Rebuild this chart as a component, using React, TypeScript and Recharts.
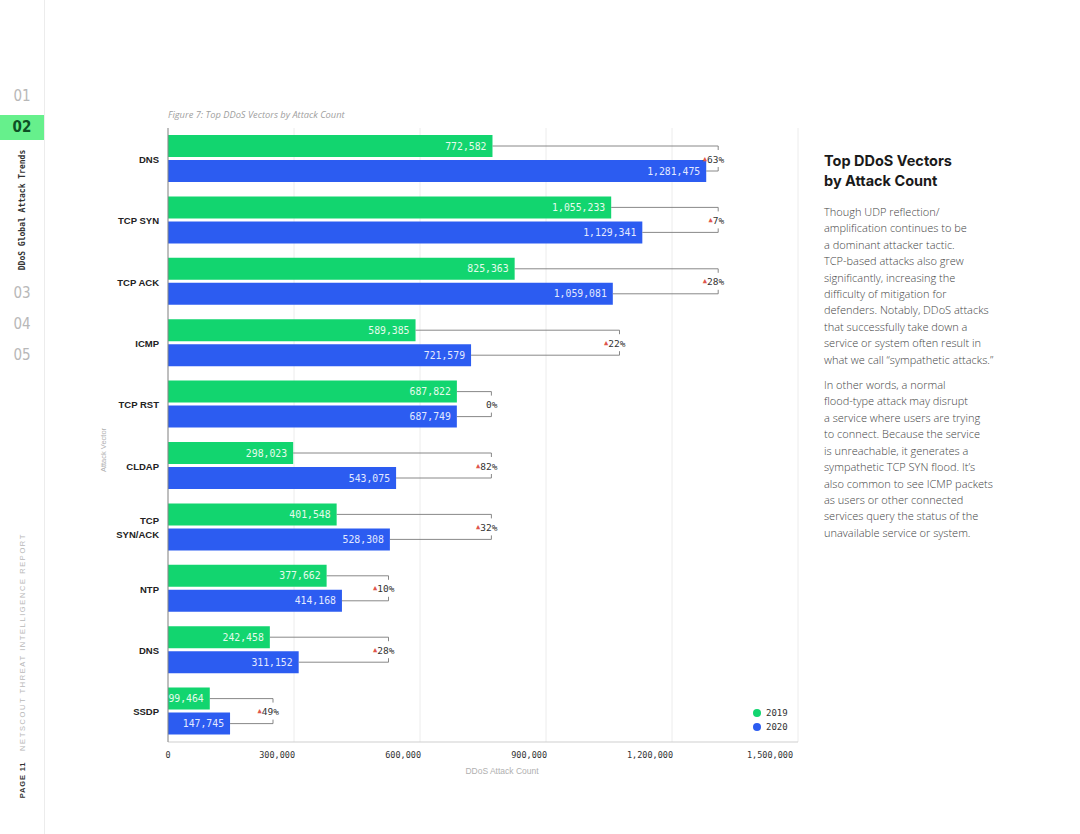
import { BarChart, Bar, XAxis, YAxis, CartesianGrid, LabelList } from "recharts";

const categories = ["DNS", "TCP SYN", "TCP ACK", "ICMP", "TCP RST", "CLDAP", "TCP SYN/ACK", "NTP", "DNS", "SSDP"];
const attacks2019 = [772582, 1055233, 825363, 589385, 687822, 298023, 401548, 377662, 242458, 99464];
const attacks2020 = [1281475, 1129341, 1059081, 721579, 687749, 543075, 528308, 414168, 311152, 147745];
const changeLabels = ["63%", "7%", "28%", "22%", "0%", "82%", "32%", "10%", "28%", "49%"];
const changeUp = [true, true, true, true, false, true, true, true, true, true];
// where each year-over-year bracket closes, in attack-count units
const bracketAt = [1310000, 1310000, 1310000, 1075000, 770000, 770000, 770000, 525000, 525000, 250000];
const xTicks = [0, 300000, 600000, 900000, 1200000, 1500000];

const rows = categories.map((name, i) => ({
  id: i,
  name,
  y2019: attacks2019[i],
  y2020: attacks2020[i],
}));

const GREEN = "#12d56f";
const BLUE = "#2c5cf1";
const MONO = "'DejaVu Sans Mono', monospace";
const SANS = "'Liberation Sans', Arial, sans-serif";
const BAR = 22;
const GAP = 3;

const fmt = (v: number) => v.toLocaleString("en-US");

function rect(props: any) {
  const vb = props.viewBox ?? props;
  return { x: vb.x ?? props.x, y: vb.y ?? props.y, width: vb.width ?? props.width, height: vb.height ?? props.height };
}

function GreenLink(props: any) {
  const { x, y, width, height } = rect(props);
  const i = props.index;
  const perUnit = width / attacks2019[i];
  const bx = x + bracketAt[i] * perUnit;
  const cy = y + height / 2;
  return <path d={`M${x + width},${cy}H${bx}V${cy + 4}`} stroke="#7a7a7a" strokeWidth={0.9} fill="none" />;
}

function BlueLink(props: any) {
  const { x, y, width, height } = rect(props);
  const i = props.index;
  const perUnit = width / attacks2020[i];
  const bx = x + bracketAt[i] * perUnit;
  const cy = y + height / 2;
  const mid = y - GAP / 2;
  return (
    <g>
      <path d={`M${x + width},${cy}H${bx}V${cy - 4}`} stroke="#7a7a7a" strokeWidth={0.9} fill="none" />
      <text x={bx + 6} y={mid} textAnchor="end" dominantBaseline="central" fontFamily={MONO} fontSize={9.5} fill="#333">
        {changeUp[i] && (
          <tspan fill="#e0564c" fontSize={7}>
            ▲
          </tspan>
        )}
        <tspan>{changeLabels[i]}</tspan>
      </text>
    </g>
  );
}

function ValueLabel(props: any) {
  const { x, y, width, height } = rect(props);
  const light = props.light as string;
  return (
    <text x={x + width - 6} y={y + height / 2} textAnchor="end" dominantBaseline="central" fontFamily={MONO} fontSize={9.8} fill={light}>
      {fmt(Number(props.value))}
    </text>
  );
}

function CatTick(props: any) {
  const { x, y, payload } = props;
  const name = categories[payload.index ?? payload.value];
  const parts = name === "TCP SYN/ACK" ? ["TCP", "SYN/ACK"] : [name];
  const start = y - ((parts.length - 1) * 14) / 2;
  return (
    <text x={x} y={start} textAnchor="end" dominantBaseline="central" fontFamily={SANS} fontWeight={700} fontSize={9.5} fill="#222">
      {parts.map((p, k) => (
        <tspan key={k} x={x} y={start + k * 14}>
          {p}
        </tspan>
      ))}
    </text>
  );
}

function CountTick(props: any) {
  const { x, y, payload } = props;
  return (
    <text x={payload.value === 0 ? x : x + 1} y={y + 2} textAnchor={payload.value === 0 ? "middle" : "end"} dy="0.71em" fontFamily={MONO} fontSize={8.5} fill="#333">
      {fmt(payload.value)}
    </text>
  );
}

function YTitle(props: any) {
  const vb = props.viewBox;
  const cx = 103;
  const cy = vb.y + vb.height / 2 + 15;
  return (
    <text x={cx} y={cy} transform={`rotate(-90 ${cx} ${cy})`} textAnchor="middle" dominantBaseline="central" fontFamily={SANS} fontSize={7.5} fill="#b0b0b0">
      Attack Vector
    </text>
  );
}

function XTitle(props: any) {
  const vb = props.viewBox;
  return (
    <text x={vb.x + vb.width / 2 + 19} y={vb.y + 29} textAnchor="middle" dominantBaseline="central" fontFamily={SANS} fontSize={8.5} fill="#b0b0b0">
      DDoS Attack Count
    </text>
  );
}

const para1 = [
  "Though UDP reflection/",
  "amplification continues to be",
  "a dominant attacker tactic.",
  "TCP-based attacks also grew",
  "significantly, increasing the",
  "difficulty of mitigation for",
  "defenders. Notably, DDoS attacks",
  "that successfully take down a",
  "service or system often result in",
  "what we call “sympathetic attacks.”",
];
const para2 = [
  "In other words, a normal",
  "flood-type attack may disrupt",
  "a service where users are trying",
  "to connect. Because the service",
  "is unreachable, it generates a",
  "sympathetic TCP SYN flood. It’s",
  "also common to see ICMP packets",
  "as users or other connected",
  "services query the status of the",
  "unavailable service or system.",
];

const navStyle: React.CSSProperties = {
  position: "absolute",
  left: 0,
  width: 44,
  textAlign: "center",
  fontFamily: "'DejaVu Sans Condensed', Roboto, sans-serif",
  fontWeight: 300,
  fontSize: 15,
  color: "#b8b8b8",
  lineHeight: "20px",
};

function Vertical({ cy, text, style }: { cy: number; text: string; style: React.CSSProperties }) {
  return (
    <div
      style={{
        position: "absolute",
        left: 22,
        top: cy,
        transform: "translate(-50%, -50%) rotate(-90deg)",
        whiteSpace: "nowrap",
        ...style,
      }}
    >
      {text}
    </div>
  );
}

export default function App() {
  return (
    <div style={{ position: "absolute", left: 0, top: 0, width: 1080, height: 834, background: "#fff", overflow: "hidden" }}>
      {/* side navigation */}
      <div style={{ position: "absolute", left: 44, top: 0, width: 1, height: 834, background: "#ececec" }} />
      <div style={{ ...navStyle, top: 86 }}>01</div>
      <div style={{ position: "absolute", left: 0, top: 115, width: 44, height: 25, background: "#66f08c" }} />
      <div style={{ ...navStyle, top: 117, color: "#0d4f24", fontWeight: 700 }}>02</div>
      <Vertical cy={210} text="DDoS Global Attack Trends" style={{ fontFamily: MONO, fontSize: 8, fontWeight: 700, color: "#333" }} />
      <div style={{ ...navStyle, top: 283 }}>03</div>
      <div style={{ ...navStyle, top: 314 }}>04</div>
      <div style={{ ...navStyle, top: 345 }}>05</div>
      <Vertical cy={642} text="NETSCOUT THREAT INTELLIGENCE REPORT" style={{ fontFamily: SANS, fontSize: 7.5, letterSpacing: 1.6, color: "#b8b8b8" }} />
      <Vertical cy={780} text="PAGE 11" style={{ fontFamily: SANS, fontSize: 7.5, fontWeight: 700, letterSpacing: 0.8, color: "#333" }} />

      <div style={{ position: "absolute", left: 168, top: 108, fontFamily: "'Open Sans', sans-serif", fontStyle: "italic", fontSize: 9.3, color: "#a0a0a0" }}>
        Figure 7: Top DDoS Vectors by Attack Count
      </div>

      <div style={{ position: "absolute", left: 0, top: 0 }}>
        <BarChart width={820} height={800} data={rows} layout="vertical" margin={{ top: 128, right: 22, bottom: 25, left: 0 }} barSize={BAR} barGap={GAP}>
          <CartesianGrid horizontal={false} stroke="#ececec" />
          <XAxis
            type="number"
            domain={[0, 1500000]}
            ticks={xTicks}
            tick={<CountTick />}
            tickLine={false}
            axisLine={{ stroke: "#cfcfcf" }}
            height={33}
            label={<XTitle />}
          />
          <YAxis type="category" dataKey="id" width={168} tick={<CatTick />} tickLine={false} tickSize={7} axisLine={{ stroke: "#888" }} label={<YTitle />} />
          <Bar dataKey="y2019" fill={GREEN} isAnimationActive={false}>
            <LabelList dataKey="y2019" content={<GreenLink />} />
            <LabelList dataKey="y2019" content={<ValueLabel light="#e6fbec" />} />
          </Bar>
          <Bar dataKey="y2020" fill={BLUE} isAnimationActive={false}>
            <LabelList dataKey="y2020" content={<BlueLink />} />
            <LabelList dataKey="y2020" content={<ValueLabel light="#e3e9ff" />} />
          </Bar>
        </BarChart>
      </div>

      {/* legend */}
      <div style={{ position: "absolute", left: 753, top: 706, fontFamily: MONO, fontSize: 9, color: "#333", lineHeight: "14px" }}>
        {[
          ["2019", GREEN],
          ["2020", BLUE],
        ].map(([label, color]) => (
          <div key={label} style={{ display: "flex", alignItems: "center" }}>
            <span style={{ display: "inline-block", width: 8, height: 8, borderRadius: 4, background: color, marginRight: 5 }} />
            {label}
          </div>
        ))}
      </div>

      {/* commentary */}
      <div style={{ position: "absolute", left: 824, top: 151, fontFamily: "Inter, sans-serif", fontWeight: 700, fontSize: 14.5, lineHeight: "20px", color: "#1a1a1a" }}>
        Top DDoS Vectors
        <br />
        by Attack Count
      </div>
      <div style={{ position: "absolute", left: 824, top: 204, fontFamily: "'Open Sans', sans-serif", fontWeight: 300, fontSize: 11, lineHeight: "16.4px", color: "#444", whiteSpace: "nowrap" }}>
        {para1.map((l) => (
          <div key={l}>{l}</div>
        ))}
        <div style={{ height: 9 }} />
        {para2.map((l) => (
          <div key={l}>{l}</div>
        ))}
      </div>
    </div>
  );
}
